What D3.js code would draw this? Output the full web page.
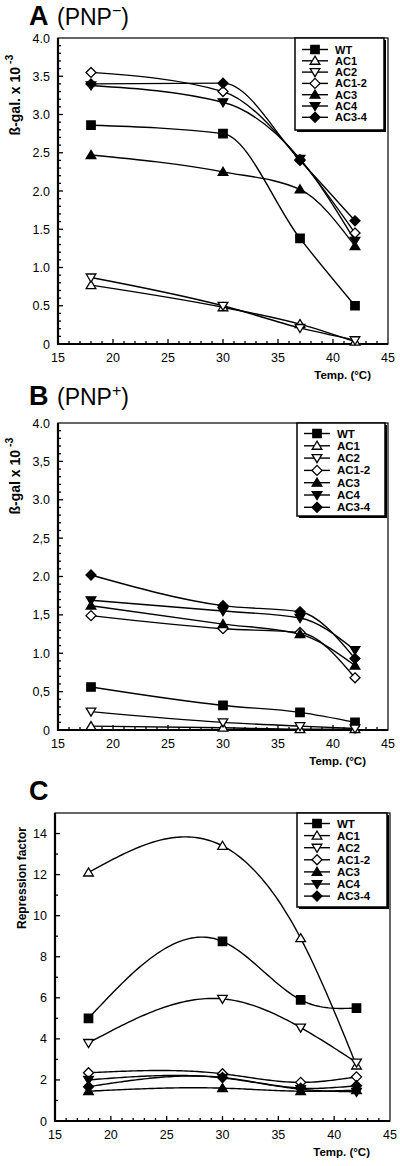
<!DOCTYPE html>
<html><head><meta charset="utf-8">
<script src="https://cdn.jsdelivr.net/npm/d3@7"></script>
<style>body{margin:0;background:#fff}svg{display:block}text{font-family:"Liberation Sans",Arial,sans-serif}</style>
</head><body>
<svg id="c" width="400" height="1166"></svg>
<script>
const temps = [18, 30, 37, 42];
const seriesNames = ["WT","AC1","AC2","AC1-2","AC3","AC4","AC3-4"];
const markers = ["squareF","triUpO","triDownO","diamondO","triUpF","triDownF","diamondF"];
// Panel A (PNP-) beta-gal x 10^-3
const A_WT   = [2.86, 2.75, 1.38, 0.50];
const A_AC1  = [0.77, 0.48, 0.26, 0.03];
const A_AC2  = [0.87, 0.50, 0.21, 0.05];
const A_AC12 = [3.55, 3.30, 2.41, 1.45];
const A_AC3  = [2.47, 2.25, 2.02, 1.28];
const A_AC4  = [3.38, 3.16, 2.42, 1.35];
const A_AC34 = [3.40, 3.41, 2.40, 1.61];
// Panel B (PNP+)
const B_WT   = [0.56, 0.32, 0.23, 0.10];
const B_AC1  = [0.05, 0.03, 0.01, 0.01];
const B_AC2  = [0.24, 0.10, 0.05, 0.02];
const B_AC12 = [1.49, 1.32, 1.27, 0.68];
const B_AC3  = [1.62, 1.38, 1.25, 0.84];
const B_AC4  = [1.69, 1.55, 1.46, 1.04];
const B_AC34 = [2.02, 1.62, 1.54, 0.93];
// Panel C repression factor
const C_WT   = [5.0, 8.75, 5.9, 5.5];
const C_AC1  = [12.1, 13.4, 8.9, 2.7];
const C_AC2  = [3.8, 5.95, 4.55, 2.85];
const C_AC12 = [2.35, 2.3, 1.88, 2.15];
const C_AC3  = [1.45, 1.6, 1.45, 1.5];
const C_AC4  = [2.0, 2.1, 1.55, 1.42];
const C_AC34 = [1.67, 2.12, 1.6, 1.72];

const xTicks = [15,20,25,30,35,40,45];
const yTicksA = ["0","0.5","1.0","1.5","2.0","2.5","3.0","3.5","4.0"];
const yTicksB = ["0","0,5","1.0","1,5","2.0","2,5","3.0","3,5","4.0"];
const yTicksC = ["0","2","4","6","8","10","12","14"];

const svg = d3.select("#c");

// natural cubic spline through (xs, ys) in data space; returns sampled points
function naturalSpline(xs, ys, step) {
  const n = xs.length, h = [], s = [];
  for (let i=0;i<n-1;i++){ h.push(xs[i+1]-xs[i]); s.push((ys[i+1]-ys[i])/h[i]); }
  const M = new Array(n).fill(0);
  const a=[],b=[],c=[],d=[];
  for (let i=1;i<n-1;i++){ a.push(h[i-1]); b.push(2*(h[i-1]+h[i])); c.push(h[i]); d.push(6*(s[i]-s[i-1])); }
  const m=b.length;
  for (let i=1;i<m;i++){ const w=a[i]/b[i-1]; b[i]-=w*c[i-1]; d[i]-=w*d[i-1]; }
  const sol=new Array(m);
  sol[m-1]=d[m-1]/b[m-1];
  for (let i=m-2;i>=0;i--) sol[i]=(d[i]-c[i]*sol[i+1])/b[i];
  for (let i=0;i<m;i++) M[i+1]=sol[i];
  const pts=[];
  for (let i=0;i<n-1;i++){
    for (let t=0;t<h[i];t+=step){
      const A=(h[i]-t)/h[i], B=t/h[i];
      const yv = A*ys[i]+B*ys[i+1]+((A*A*A-A)*M[i]+(B*B*B-B)*M[i+1])*h[i]*h[i]/6;
      pts.push([xs[i]+t,yv]);
    }
  }
  pts.push([xs[n-1],ys[n-1]]);
  return pts;
}

function markerPath(type, cx, cy) {
  const s = 4.2;
  if (type.startsWith("square")) return `M${cx-s},${cy-s}h${2*s}v${2*s}h${-2*s}Z`;
  if (type.startsWith("triUp")) { const h=4.6; return `M${cx},${cy-h}L${cx+h*1.05},${cy+h*0.75}L${cx-h*1.05},${cy+h*0.75}Z`; }
  if (type.startsWith("triDown")) { const h=4.6; return `M${cx},${cy+h}L${cx+h*1.05},${cy-h*0.75}L${cx-h*1.05},${cy-h*0.75}Z`; }
  const d=5; return `M${cx},${cy-d}L${cx+d},${cy}L${cx},${cy+d}L${cx-d},${cy}Z`;
}

function panel(cfg) {
  const {left,right,top,bottom,ymax,yticks,ystep,yminor,data,letter,sup,ylabel,labelX,labelY,titleY,legend} = cfg;
  const x = d3.scaleLinear().domain([15,45]).range([left,right]);
  const y = d3.scaleLinear().domain([0,ymax]).range([bottom,top]);
  const g = svg.append("g");
  g.append("rect").attr("x",left).attr("y",top).attr("width",right-left).attr("height",bottom-top)
    .attr("fill","none").attr("stroke","#000").attr("stroke-width",1.2);
  g.append("line").attr("x1",left).attr("x2",left).attr("y1",top).attr("y2",bottom+1).attr("stroke","#000").attr("stroke-width",2.2);
  g.append("line").attr("x1",left-1).attr("x2",right).attr("y1",bottom).attr("y2",bottom).attr("stroke","#000").attr("stroke-width",2.2);
  d3.range(16,45,1).forEach(v=>{
    const major = v%5===0;
    g.append("line").attr("x1",x(v)).attr("x2",x(v)).attr("y1",bottom).attr("y2",bottom-(major?5:3)).attr("stroke","#000").attr("stroke-width",1.3);
  });
  xTicks.forEach(v=>{
    g.append("text").attr("x",x(v)).attr("y",bottom+18).attr("text-anchor","middle").attr("font-size",12.5).text(v);
  });
  const nMinor = Math.round(ymax/yminor);
  for (let i=1;i<nMinor;i++){
    const v=i*yminor; const major = Math.abs(v/ystep-Math.round(v/ystep))<1e-6;
    g.append("line").attr("x1",left).attr("x2",left+(major?5:3)).attr("y1",y(v)).attr("y2",y(v)).attr("stroke","#000").attr("stroke-width",1.3);
  }
  yticks.forEach((t,i)=>{
    g.append("text").attr("x",left-8).attr("y",y(i*ystep)+4.5).attr("text-anchor","end").attr("font-size",12.5).text(t);
  });
  const yl = g.append("text").attr("transform",`translate(${labelX},${labelY}) rotate(-90)`).attr("text-anchor","middle")
    .attr("font-size",cfg.ylabelSize||14).attr("font-weight","bold");
  yl.append("tspan").text(ylabel[0]);
  if (ylabel[1]) yl.append("tspan").attr("dy",-7).attr("dx",3).attr("font-size",10.5).text(ylabel[1]);
  g.append("text").attr("x",cfg.xlabelX).attr("y",bottom+35).attr("text-anchor","end").attr("font-size",11.5).attr("font-weight","bold").text(cfg.xlabel);
  g.append("text").attr("x",29).attr("y",titleY).attr("font-size",27).attr("font-weight","bold").text(letter);
  if (sup) {
    const t = g.append("text").attr("x",57).attr("y",titleY).attr("font-size",23);
    t.append("tspan").text("(PNP");
    t.append("tspan").attr("dy",-9).attr("font-size",16).text(sup);
    t.append("tspan").attr("dy",9).text(")");
  }
  data.forEach((vals)=>{
    let d;
    if (cfg.spline) {
      const pts = naturalSpline(temps, vals, 0.25);
      d = d3.line().x(p=>x(p[0])).y(p=>y(p[1]))(pts);
    } else {
      d = d3.line().x((v,i)=>x(temps[i])).y(v=>y(v)).curve(d3.curveMonotoneX)(vals);
    }
    g.append("path").attr("d",d).attr("fill","none").attr("stroke","#000").attr("stroke-width",1.4);
  });
  data.forEach((vals,si)=>{
    const m = markers[si]; const filled = m.endsWith("F");
    vals.forEach((v,i)=>{
      g.append("path").attr("d",markerPath(m,x(temps[i]),y(v)))
        .attr("fill",filled?"#000":"#fff").attr("stroke","#000").attr("stroke-width",1.3);
    });
  });
  const L = legend;
  g.append("rect").attr("x",L.x+2).attr("y",L.y+2).attr("width",L.w).attr("height",L.h).attr("fill","#000");
  g.append("rect").attr("x",L.x).attr("y",L.y).attr("width",L.w).attr("height",L.h).attr("fill","#fff").attr("stroke","#000").attr("stroke-width",1.5);
  seriesNames.forEach((n,i)=>{
    const yy = L.y0 + i*L.dy;
    g.append("line").attr("x1",L.x+7).attr("x2",L.x+33).attr("y1",yy).attr("y2",yy).attr("stroke","#000").attr("stroke-width",1.4);
    const m = markers[i];
    g.append("path").attr("d",markerPath(m,L.x+20,yy)).attr("fill",m.endsWith("F")?"#000":"#fff").attr("stroke","#000").attr("stroke-width",1.3);
    g.append("text").attr("x",L.x+40).attr("y",yy+4).attr("font-size",L.fs).attr("font-weight","bold").text(n);
  });
}

panel({left:58,right:388,top:38,bottom:344,ymax:4,yticks:yTicksA,ystep:0.5,yminor:0.1,
  data:[A_WT,A_AC1,A_AC2,A_AC12,A_AC3,A_AC4,A_AC34],letter:"A",sup:"\u2212",titleY:25,
  ylabel:["\u00DF-gal. x 10","-3"],labelX:20,labelY:95,xlabel:"Temp. (°C)",xlabelX:371,
  legend:{x:295,y:38,w:89,h:92,y0:49.5,dy:11.3,fs:11}});
panel({left:58,right:388,top:423,bottom:730,ymax:4,yticks:yTicksB,ystep:0.5,yminor:0.1,
  data:[B_WT,B_AC1,B_AC2,B_AC12,B_AC3,B_AC4,B_AC34],letter:"B",sup:"+",titleY:405,
  ylabel:["\u00DF-gal x 10","-3"],labelX:20,labelY:476,xlabel:"Temp. (°C)",xlabelX:366,
  legend:{x:297,y:423,w:88,h:93,y0:433.5,dy:12.3,fs:11.5}});
panel({left:55,right:390,top:813,bottom:1121,ymax:15,yticks:yTicksC,ystep:2,yminor:1,spline:true,
  data:[C_WT,C_AC1,C_AC2,C_AC12,C_AC3,C_AC4,C_AC34],letter:"C",sup:null,titleY:800,
  ylabel:["Repression factor"],ylabelSize:12,labelX:26,labelY:878,xlabel:"Temp.  (°C)",xlabelX:370,
  legend:{x:297,y:813,w:90,h:94,y0:823.5,dy:12.1,fs:11.5}});
</script>
</body></html>
